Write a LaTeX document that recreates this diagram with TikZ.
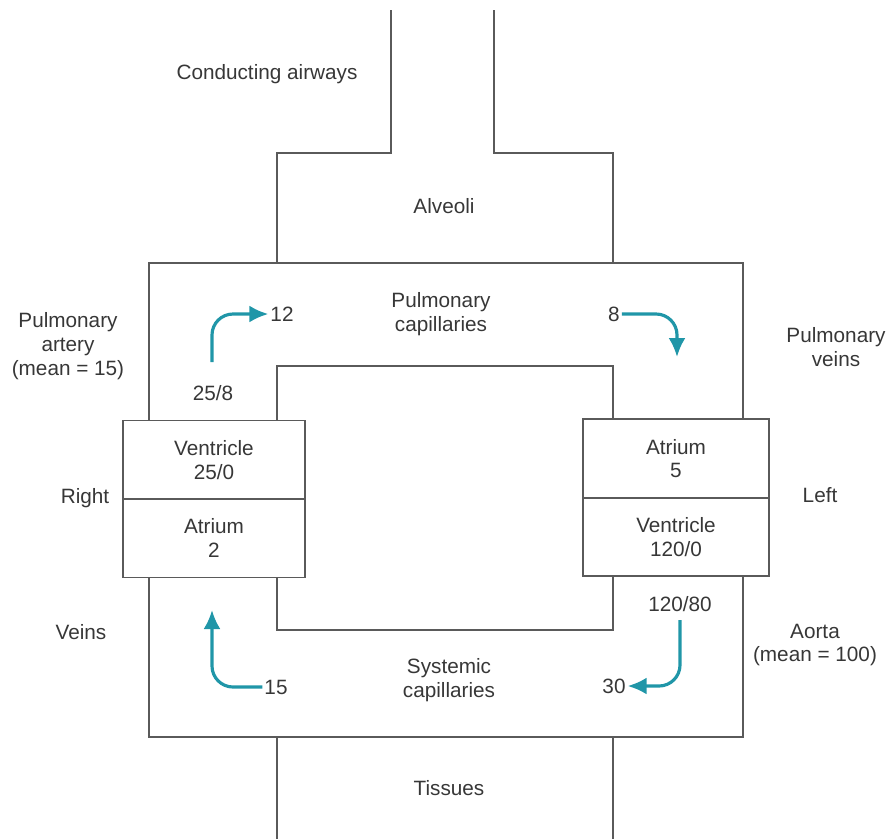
\documentclass[tikz,border=0pt]{standalone}
\usepackage{fontspec}
\setmainfont{Liberation Sans}
\usepackage{tikz}
\usetikzlibrary{arrows.meta}

\definecolor{flowteal}{RGB}{32,150,168}
\definecolor{wallgray}{RGB}{90,90,90}
\definecolor{txtgray}{RGB}{55,55,55}

\begin{document}
\begin{tikzpicture}[
    x=0.02cm, y=-0.02cm,
    wall/.style={draw=wallgray, line width=0.9pt},
    chamber/.style={draw=wallgray, line width=0.9pt, fill=white, align=center, minimum width=3.64cm, minimum height=1.57cm, inner sep=0pt, text=txtgray, font=\fontsize{11.8}{13.5}\selectfont},
    lbl/.style={align=center, text=txtgray, font=\fontsize{11.8}{13.5}\selectfont, inner sep=1pt},
    flow/.style={draw=flowteal, line width=1.8pt, rounded corners=0.42cm, -{Latex[length=3.8mm, width=3.4mm]}}
  ]
    \useasboundingbox (0,0) rectangle (891,839);

    % airways, alveoli and tissues
    \draw[wall] (391,10) -- (391,153) -- (277,153) -- (277,263);
    \draw[wall] (494,10) -- (494,153) -- (613,153) -- (613,263);
    \draw[wall] (277,737) -- (277,839);
    \draw[wall] (613,737) -- (613,839);
    % circulation loop
    \draw[wall] (149,263) rectangle (743,737);
    \draw[wall] (277,366) rectangle (613,630);

    % heart
    \node[chamber] (rv) at (214,459.75) {Ventricle\\25/0};
    \node[chamber] (ra) at (214,538.25) {Atrium\\2};
    \node[chamber, minimum width=3.72cm] (la) at (676,458.5) {Atrium\\5};
    \node[chamber, minimum width=3.72cm] (lv) at (676,537) {Ventricle\\120/0};

    % labels
    \node[lbl] (airways) at (267,74) {Conducting airways};
    \node[lbl] (alveoli) at (444,206) {Alveoli};
    \node[lbl] (pcap) at (441,314) {Pulmonary\\capillaries};
    \node[lbl] (partery) at (68,346) {Pulmonary\\artery\\(mean = 15)};
    \node[lbl] (pveins) at (836,347) {Pulmonary\\veins};
    \node[lbl] (right) at (85,498) {Right};
    \node[lbl] (left) at (820,495) {Left};
    \node[lbl] (veins) at (81,632) {Veins};
    \node[lbl] (aorta) at (815,645) {Aorta\\(mean = 100)};
    \node[lbl] (scap) at (449,680) {Systemic\\capillaries};
    \node[lbl] (tissues) at (449,788) {Tissues};

    % pressures
    \node[lbl] (p258) at (213,393) {25/8};
    \node[lbl] (p12) at (282,314) {12};
    \node[lbl] (p8) at (614,314) {8};
    \node[lbl] (p12080) at (680,604) {120/80};
    \node[lbl] (p15) at (276,687) {15};
    \node[lbl] (p30) at (614,686) {30};

    \coordinate (pastart) at (212,362);
    \coordinate (laend) at (677,357);
    \coordinate (raend) at (212,610);
    \coordinate (aostart) at (680,620);

    \draw[flow] (pastart) |- (p12.west);
    \draw[flow] (p8.east) -| (laend);
    \draw[flow] (p15.west) -| (raend);
    \draw[flow] (aostart) |- (p30.east);
  \end{tikzpicture}
\end{document}
